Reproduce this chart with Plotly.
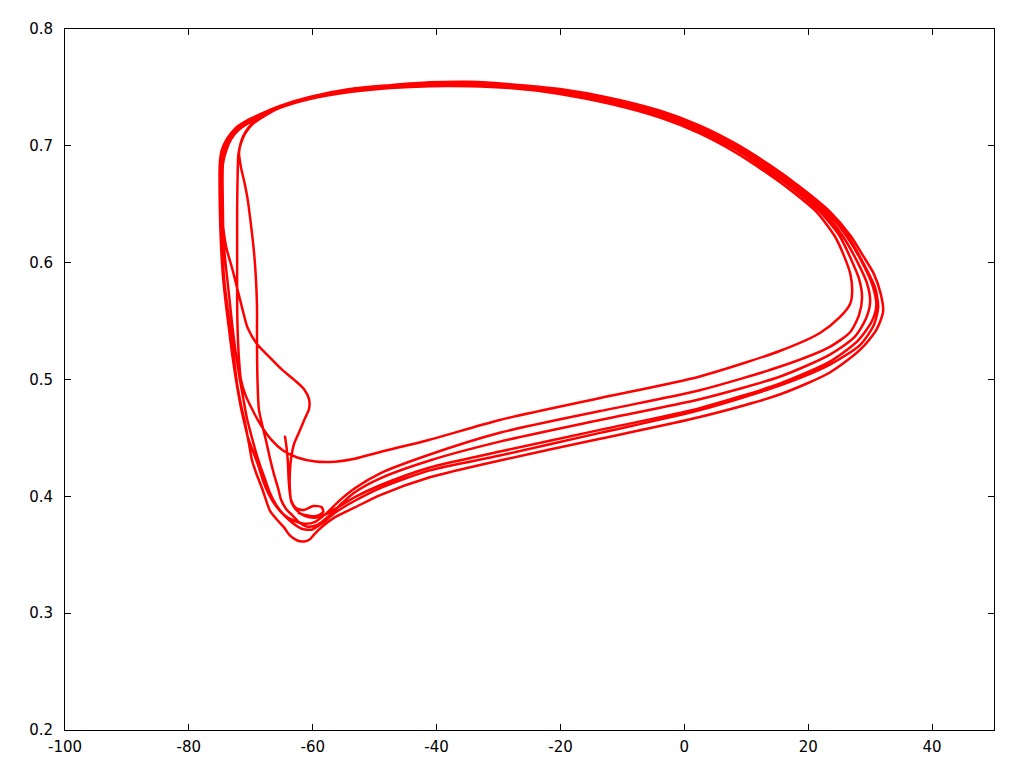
import plotly.graph_objects as go

# ---- trajectory (membrane potential V vs. gating variable) ----
start_v = [-64.5, -64.2, -64.0, -63.9, -63.7, -63.4, -62.5, -61.3, -59.7, -58.1, -55.6, -53.2]
start_y = [0.452, 0.4409, 0.4282, 0.4155, 0.4028, 0.3944, 0.3876, 0.3833, 0.3816, 0.3841, 0.3917, 0.3994]

# V positions shared by the upper (returning) branches
top_v = [13.8, 8.2, 2.5, -3.9, -12.0, -20.1, -28.2, -34.6, -41.1, -47.5, -54.0, -60.5, -65.3]

# cycle 1
c1_bot_v = [-49.1, -41.1, -29.8, -13.6, 2.5, 15.5, 23.5, 28.0, 30.3, 31.0, 30.4, 29.0, 26.2, 22.9, 18.0]
c1_bot_y = [0.4095, 0.4247, 0.4383, 0.4569, 0.4755, 0.4967, 0.5153, 0.5331, 0.5500, 0.5635, 0.5804, 0.5973, 0.6226, 0.6437, 0.6648]
c1_top_y = [0.6810, 0.6996, 0.7148, 0.7275, 0.7393, 0.7469, 0.7519, 0.7536, 0.7532, 0.7511, 0.7477, 0.7410, 0.7334]
c1_corner_v = [-67.9, -70.2, -72.1, -73.4, -74.2, -74.8]
c1_corner_y = [0.7274, 0.7215, 0.7147, 0.7063, 0.6962, 0.6851]
c1_down_v = [-74.8, -74.7, -74.5, -74.2, -73.7, -73.2, -72.7, -72.2, -71.6, -70.9, -70.3, -69.8, -69.0, -68.2, -67.5, -66.9, -65.9, -64.6, -63.7, -62.5, -61.4, -60.5, -59.8, -58.5, -56.4, -53.2]
c1_down_y = [0.6477, 0.6226, 0.6006, 0.5803, 0.5592, 0.538, 0.5169, 0.4958, 0.4789, 0.462, 0.4451, 0.4307, 0.418, 0.4071, 0.3961, 0.3876, 0.3808, 0.3732, 0.3665, 0.3622, 0.3614, 0.3631, 0.3673, 0.3740, 0.3822, 0.3905]

# cycle 2
c2_bot_v = [-49.1, -41.1, -29.8, -13.6, 2.5, 15.5, 23.5, 28.4, 31.0, 32.1, 31.7, 30.6, 28.7, 26.9, 23.5, 18.7]
c2_bot_y = [0.4011, 0.4163, 0.4307, 0.4493, 0.4679, 0.4874, 0.5060, 0.5255, 0.5424, 0.5583, 0.5735, 0.5904, 0.6073, 0.6226, 0.6437, 0.6648]
c2_top_y = [0.6835, 0.7021, 0.7173, 0.7300, 0.7410, 0.7486, 0.7528, 0.7548, 0.7544, 0.7519, 0.7486, 0.7418, 0.7342]
c2_corner_v = [-68.1, -70.5, -72.5, -73.8, -74.7, -75.0]
c2_corner_y = [0.7280, 0.7220, 0.7150, 0.7063, 0.6962, 0.6851]
c2_down_v = [-75.0, -74.8, -74.5, -74.0, -73.5, -73.0, -72.4, -71.7, -71.0, -70.4, -69.5, -68.8, -68.0, -67.2, -66.3, -65.0, -63.3, -61.8, -60.1, -58.5, -56.4, -53.2]
c2_down_y = [0.6477, 0.6141, 0.5889, 0.5635, 0.5424, 0.5213, 0.5002, 0.4789, 0.462, 0.4493, 0.4365, 0.4265, 0.4130, 0.4028, 0.3944, 0.3858, 0.3774, 0.3723, 0.3715, 0.3770, 0.3860, 0.3962]

# cycle 3
c3_bot_v = [-49.1, -41.1, -29.8, -13.6, 2.5, 15.5, 23.5, 28.4, 30.6, 31.3, 30.8, 29.3, 26.4, 23.0, 18.2]
c3_bot_y = [0.4071, 0.4222, 0.4349, 0.4543, 0.4738, 0.4950, 0.5127, 0.5297, 0.5466, 0.5618, 0.5787, 0.5956, 0.6226, 0.6437, 0.6648]
c3_top_y = [0.6818, 0.7004, 0.7156, 0.7283, 0.7393, 0.7477, 0.7519, 0.7536, 0.7536, 0.7511, 0.7477, 0.7405, 0.7330]
c3_corner_v = [-67.7, -69.8, -70.9, -71.6, -71.9]
c3_corner_y = [0.7266, 0.7190, 0.7114, 0.7030, 0.6937]
c3_down_v = [-71.6, -71.0, -70.5, -70.0, -69.5, -69.2, -69.0, -69.0, -68.9, -68.7, -68.2, -67.5, -66.9, -66.3, -65.6, -65.1, -64.3, -63.2, -62.1, -60.8, -59.2, -57.2, -55.2, -53.2]
c3_down_y = [0.6820, 0.6680, 0.6540, 0.6336, 0.6099, 0.5889, 0.5635, 0.5297, 0.4958, 0.4747, 0.462, 0.4468, 0.4324, 0.4197, 0.4071, 0.3968, 0.3892, 0.3833, 0.3774, 0.374, 0.3757, 0.3841, 0.3945, 0.4035]

# cycle 4
c4_bot_v = [-49.1, -41.1, -29.8, -13.6, 2.5, 15.5, 23.5, 27.5, 29.3, 30.0, 29.5, 28.0, 25.6, 22.4, 17.7]
c4_bot_y = [0.4154, 0.4307, 0.4468, 0.4654, 0.4831, 0.5026, 0.5213, 0.5365, 0.5518, 0.5662, 0.5822, 0.6, 0.6226, 0.6437, 0.6648]
c4_top_y = [0.6793, 0.6979, 0.7140, 0.7266, 0.7385, 0.7460, 0.7511, 0.7528, 0.7528, 0.7503, 0.7469, 0.7401, 0.7325]
c4_corner_v = [-67.7, -69.8, -70.9, -71.6, -72.0]
c4_corner_y = [0.7258, 0.7182, 0.7106, 0.7022, 0.6929]
c4_down_v = [-72.1, -72.2, -72.2, -72.2, -72.1, -71.9, -71.6, -70.9, -69.8, -68.3, -66.7, -64.8, -62.5, -59.6, -56.4, -53.2]
c4_down_y = [0.6818, 0.6477, 0.6006, 0.5635, 0.538, 0.5169, 0.5001, 0.4873, 0.4747, 0.4603, 0.4485, 0.4392, 0.4332, 0.4298, 0.4297, 0.4322]

# cycle 5
c5_bot_v = [-49.1, -41.1, -29.8, -13.6, 2.5, 15.5, 21.9, 25.1, 26.8, 27.1, 26.8, 25.8, 24.3, 21.3, 16.5]
c5_bot_y = [0.4380, 0.4485, 0.4654, 0.4841, 0.5026, 0.5246, 0.5398, 0.5533, 0.5651, 0.5764, 0.5904, 0.6056, 0.6226, 0.6437, 0.6648]
c5_top_y = [0.6751, 0.6945, 0.7106, 0.7241, 0.7359, 0.7444, 0.7494, 0.7511, 0.7511, 0.7494, 0.7460, 0.7401, 0.7325]
c5_corner_v = [-67.8, -70.1, -72.0, -73.2, -74.0, -74.5]
c5_corner_y = [0.7262, 0.7203, 0.7135, 0.7055, 0.6955, 0.6845]
c5_down_v = [-74.5, -74.4, -74.0, -73.5, -73.0, -72.5, -71.9, -71.2, -70.6, -69.9, -69.2, -68.5, -67.7, -66.9, -65.9, -64.6, -63.0, -61.3, -59.6, -57.9, -55.6, -53.2]
c5_down_y = [0.6437, 0.6183, 0.5955, 0.5718, 0.5465, 0.5254, 0.5043, 0.4832, 0.4662, 0.4519, 0.4383, 0.4265, 0.4147, 0.4028, 0.3926, 0.3841, 0.3791, 0.3765, 0.3782, 0.3850, 0.3968, 0.4070]

# cycle 6
c6_bot_v = [-49.1, -41.1, -29.8, -13.6, 2.5, 15.5, 23.5, 26.8, 28.2, 28.7, 28.2, 26.9, 25.1, 21.9, 17.2]
c6_bot_y = [0.4197, 0.4358, 0.4544, 0.4730, 0.4908, 0.5111, 0.528, 0.5407, 0.5551, 0.5703, 0.5864, 0.6032, 0.6226, 0.6437, 0.6648]
c6_top_y = [0.6776, 0.6971, 0.7123, 0.7258, 0.7376, 0.7460, 0.7503, 0.7519, 0.7519, 0.7503, 0.7469, 0.7410, 0.7338]
c6_corner_v = [-67.9, -70.3, -72.3, -73.6, -74.3, -74.7]
c6_corner_y = [0.7270, 0.7211, 0.7143, 0.7059, 0.6958, 0.6848]
c6_down_v = [-74.6, -74.0, -72.9, -71.9, -71.3, -70.5, -68.9, -66.9, -65.0, -62.9, -61.4, -60.6, -60.6, -61.3, -62.1, -63.0, -63.5, -63.7, -63.7, -63.5, -62.7, -61.4, -59.9, -58.6, -58.3, -59.4, -61.3, -62.4]
c6_down_y = [0.6394, 0.6141, 0.593, 0.5718, 0.5592, 0.5440, 0.5297, 0.5187, 0.5086, 0.4993, 0.4917, 0.4832, 0.4747, 0.4663, 0.4561, 0.4451, 0.4324, 0.4197, 0.4071, 0.3969, 0.39, 0.3883, 0.3917, 0.3908, 0.3866, 0.3832, 0.3841, 0.3858]

x_ticks = [-100, -80, -60, -40, -20, 0, 20, 40]
x_labels = ["-100", "-80", "-60", "-40", "-20", "0", "20", "40"]
y_ticks = [0.2, 0.3, 0.4, 0.5, 0.6, 0.7, 0.8]
y_labels = ["0.2", "0.3", "0.4", "0.5", "0.6", "0.7", "0.8"]

cycles = [
    (c1_bot_v, c1_bot_y, c1_top_y, c1_corner_v, c1_corner_y, c1_down_v, c1_down_y),
    (c2_bot_v, c2_bot_y, c2_top_y, c2_corner_v, c2_corner_y, c2_down_v, c2_down_y),
    (c3_bot_v, c3_bot_y, c3_top_y, c3_corner_v, c3_corner_y, c3_down_v, c3_down_y),
    (c4_bot_v, c4_bot_y, c4_top_y, c4_corner_v, c4_corner_y, c4_down_v, c4_down_y),
    (c5_bot_v, c5_bot_y, c5_top_y, c5_corner_v, c5_corner_y, c5_down_v, c5_down_y),
    (c6_bot_v, c6_bot_y, c6_top_y, c6_corner_v, c6_corner_y, c6_down_v, c6_down_y),
]
V = list(start_v)
Y = list(start_y)
for bv, by, ty, cv, cy, dv, dy in cycles:
    V += bv + top_v + cv + dv
    Y += by + ty + cy + dy

fig = go.Figure()
fig.add_trace(go.Scatter(
    x=V, y=Y, mode="lines",
    line=dict(color="#ff0000", width=2.5, shape="spline", smoothing=0.7),
    showlegend=False, hoverinfo="skip"))

font = dict(family="DejaVu Sans", size=15, color="black")
axis_common = dict(
    showgrid=False, zeroline=False, showline=True, linecolor="black", linewidth=1,
    mirror="ticks", ticks="inside", ticklen=6, tickwidth=1, tickcolor="black",
    tickfont=font,
)
fig.update_xaxes(range=[-100, 50], tickvals=x_ticks, ticktext=x_labels,
                 ticklabelstandoff=3, **axis_common)
fig.update_yaxes(range=[0.2, 0.8], tickvals=y_ticks, ticktext=y_labels,
                 ticklabelstandoff=8, **axis_common)
fig.update_layout(
    width=1016, height=760,
    margin=dict(l=57, r=30, t=12, b=38),
    plot_bgcolor="white", paper_bgcolor="white",
    font=font,
)
fig.write_html("out.html")
